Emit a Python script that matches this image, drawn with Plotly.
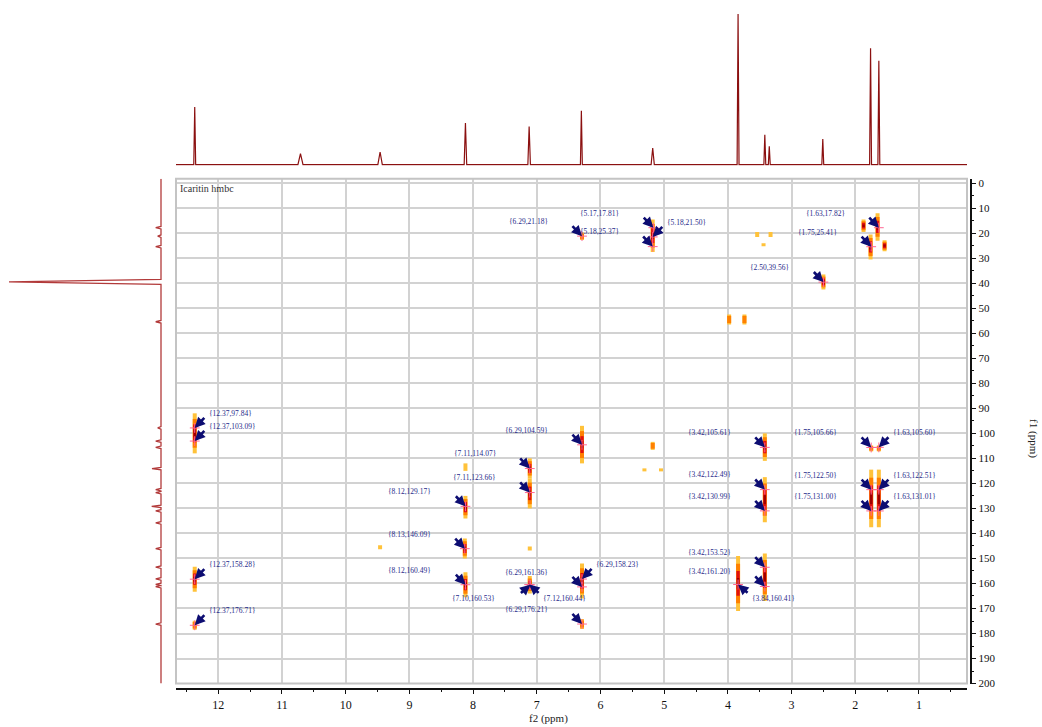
import plotly.graph_objects as go

W, H = 1042, 727
VS = 1.009  # vertical compensation for the capture

# ---------------- data ----------------
f2_tick_vals = [1, 2, 3, 4, 5, 6, 7, 8, 9, 10, 11, 12]
f1_tick_vals = list(range(0, 201, 10))

# 1H projection (top): ppm, height, half-width (ppm)
proton_ppm = [12.37, 10.71, 9.46, 8.12, 7.12, 6.30, 5.18, 3.84, 3.42, 3.35, 2.51, 1.76, 1.63]
proton_int = [57.7, 11.0, 12.7, 41.7, 38.3, 54.0, 16.7, 151.0, 30.0, 18.3, 25.7, 116.7, 104.0]
proton_hw = [0.015, 0.04, 0.035, 0.02, 0.02, 0.015, 0.025, 0.015, 0.015, 0.015, 0.015, 0.015, 0.015]

# 13C projection (left): ppm, height, half-width (ppm)
carbon_ppm = [17.8, 21.2, 25.4, 39.5, 55.4, 97.8, 103.1, 105.6, 114.1, 122.5, 123.7,
              129.2, 131.0, 135.8, 146.1, 153.5, 158.2, 160.4, 161.3, 176.2]
carbon_int = [5.3, 3.3, 5.3, 152.0, 5.3, 3.3, 5.3, 5.3, 9.0, 5.3, 5.3,
              9.3, 5.3, 5.3, 5.3, 5.3, 5.3, 5.3, 5.3, 5.3]
carbon_hw = [0.5, 0.5, 0.5, 1.0, 0.5, 0.5, 0.5, 0.5, 0.5, 0.5, 0.5,
             0.5, 0.5, 0.5, 0.5, 0.5, 0.5, 0.5, 0.5, 0.5]

# 2D cross peaks: f2, f1 centre, f1 half-extent, intensity level (1..3)
spot_f2 = [12.37, 12.37, 12.37, 8.12, 8.12, 8.13, 8.12, 9.46, 7.11, 7.11, 7.11, 7.11,
           6.29, 6.29, 6.29, 6.29, 5.18, 5.18, 5.31, 5.05, 3.54, 3.33, 3.44, 3.98, 3.74,
           3.42, 3.42, 3.42, 3.84, 2.50, 1.87, 1.65, 1.76, 1.54, 1.75, 1.63, 1.75, 1.63]
spot_f1 = [100.0, 158.3, 176.7, 113.5, 129.5, 146.0, 160.5, 145.5, 114.0, 124.0, 146.0, 160.5,
           104.5, 159.0, 176.2, 21.2, 21.0, 105.0, 114.6, 114.6, 20.5, 20.5, 24.6, 54.5, 54.5,
           105.5, 126.5, 157.5, 160.0, 39.5, 17.0, 17.5, 25.5, 25.0, 106.0, 106.0, 126.0, 126.0]
spot_span = [8.0, 5.0, 1.8, 1.5, 4.5, 4.0, 5.0, 0.8, 4.0, 6.0, 0.8, 3.5,
             7.5, 7.0, 2.0, 1.5, 6.5, 1.6, 0.6, 0.6, 1.0, 1.0, 0.6, 2.0, 2.0,
             5.5, 9.0, 9.5, 11.0, 3.0, 2.5, 5.5, 5.0, 2.2, 1.2, 1.2, 11.5, 11.5]
spot_level = [3, 3, 2, 1, 3, 3, 3, 1, 3, 3, 1, 3,
              3, 3, 2, 2, 3, 2, 1, 1, 1, 1, 1, 2, 2,
              3, 3, 3, 3, 3, 3, 3, 3, 3, 2, 2, 3, 3]

# peak-pick labels: f2, f1, side of the arrow tail
label_f2 = [12.37, 12.37, 12.37, 12.37, 8.12, 8.13, 8.12, 7.11, 7.11, 6.29, 6.29, 6.29,
            7.10, 7.12, 6.29, 6.29, 5.18, 5.17, 5.18, 2.50, 1.63, 1.75,
            3.42, 1.75, 1.63, 3.42, 1.75, 1.63, 3.42, 1.75, 1.63, 3.42, 3.42, 3.84]
label_f1 = [97.84, 103.09, 158.28, 176.71, 129.17, 146.09, 160.49, 114.07, 123.66, 104.59, 161.36, 158.23,
            160.53, 160.44, 176.21, 21.18, 25.37, 17.81, 21.50, 39.56, 17.82, 25.41,
            105.61, 105.66, 105.60, 122.49, 122.50, 122.51, 130.99, 131.00, 131.01, 153.52, 161.20, 160.41]
label_side = ['ur', 'ur', 'ur', 'ur', 'ul', 'ul', 'ul', 'ul', 'ul', 'ul', 'ul', 'ur',
              'dl', 'dr', 'ul', 'ul', 'ul', 'ul', 'ur', 'ul', 'ul', 'ul',
              'ul', 'ul', 'ur', 'ul', 'ul', 'ur', 'ul', 'ul', 'ur', 'ul', 'ul', 'dr']


# ---------------- layout geometry ----------------
def fy(px):
    """paper y fraction for a target pixel row (from top)"""
    return 1 - px * VS / H


X_RANGE = [12.664, 0.246]
Y_RANGE = [200.0, -1.8]
xdom = [176 / W, 967 / W]
ydom = [fy(683), fy(177)]

SERIF = "Liberation Serif, Times New Roman, serif"
NAVY = "#0d0d72"
LABEL_C = "#1f2a8a"
SPEC_C = "#8b1010"

fig = go.Figure()

# ---- top 1D projection ----
xs, ys = [X_RANGE[0]], [0]
for p, h, w in sorted(zip(proton_ppm, proton_int, proton_hw), reverse=True):
    xs += [p + w, p, p - w]
    ys += [0, h, 0]
xs.append(X_RANGE[1]); ys.append(0)
fig.add_trace(go.Scatter(x=xs, y=ys, xaxis="x2", yaxis="y2", mode="lines",
                         line=dict(color=SPEC_C, width=1.2), hoverinfo="skip", showlegend=False))

# ---- left 1D projection ----
cy, cx = [Y_RANGE[1]], [0]
for p, h, w in sorted(zip(carbon_ppm, carbon_int, carbon_hw)):
    cy += [p - w, p, p + w]
    cx += [0, h, 0]
cy.append(Y_RANGE[0]); cx.append(0)
fig.add_trace(go.Scatter(x=cx, y=cy, xaxis="x3", yaxis="y3", mode="lines",
                         line=dict(color="#b23a3a", width=1.3), hoverinfo="skip", showlegend=False))

# ---- 2D cross peaks (contour-like streaks) ----
layers = [("#FFC23A", 1.0, 4.0, 1), ("#FF8000", 0.72, 4.0, 2), ("#E01010", 0.45, 3.2, 3),
          ("#A00000", 0.2, 2.4, 3)]
for color, frac, width, minlev in layers:
    lx, ly = [], []
    for f2, f1, s, lev in zip(spot_f2, spot_f1, spot_span, spot_level):
        if lev >= minlev:
            lx += [f2, f2, None]
            ly += [f1 - s * frac, f1 + s * frac, None]
    fig.add_trace(go.Scatter(x=lx, y=ly, mode="lines", line=dict(color=color, width=width),
                             hoverinfo="skip", showlegend=False))

# peak crosses
fig.add_trace(go.Scatter(x=label_f2, y=label_f1, mode="markers",
                         marker=dict(symbol="cross-thin-open", size=7, line=dict(color=NAVY, width=1)),
                         hoverinfo="skip", showlegend=False))

# ---- arrows + labels ----
tail = {"ul": (-11, -11.5), "ur": (11, -11.5), "dl": (-11, 9.5), "dr": (11, 9.5)}
txt = {"ul": (-32, 14.5, "right"), "ur": (12, 14.5, "left"),
       "dl": (-33, -14, "right"), "dr": (12, -14, "left")}
annotations = []
for f2, f1, side in zip(label_f2, label_f1, label_side):
    ax, ay = tail[side]
    annotations.append(dict(x=f2, y=f1, xref="x", yref="y", ax=ax, ay=ay * VS, text="",
                            showarrow=True, arrowhead=2, arrowsize=0.8, arrowwidth=2.6,
                            arrowcolor=NAVY, standoff=0))
    xs_, ys_, anc = txt[side]
    annotations.append(dict(x=f2, y=f1, xref="x", yref="y", showarrow=False,
                            text="{%.2f,%.2f}" % (f2, f1), xanchor=anc, yanchor="middle",
                            xshift=xs_, yshift=ys_ * VS,
                            font=dict(family=SERIF, size=7.5, color=LABEL_C)))

annotations.append(dict(x=178 / W, y=fy(187), xref="paper", yref="paper", showarrow=False,
                        text="Icaritin hmbc", xanchor="left", yanchor="middle",
                        font=dict(family=SERIF, size=10, color="#333333")))
annotations.append(dict(x=548 / W, y=fy(718), xref="paper", yref="paper", showarrow=False,
                        text="f2 (ppm)", xanchor="center", yanchor="middle",
                        font=dict(family=SERIF, size=11, color="#222222")))
annotations.append(dict(x=1034 / W, y=fy(437), xref="paper", yref="paper", showarrow=False,
                        text="f1 (ppm)", textangle=90, xanchor="center", yanchor="middle",
                        font=dict(family=SERIF, size=11, color="#222222")))

fig.update_layout(
    width=W, height=H, autosize=False, margin=dict(l=0, r=0, t=0, b=0, pad=0),
    paper_bgcolor="white", plot_bgcolor="white", showlegend=False,
    xaxis=dict(domain=xdom, range=X_RANGE, tickvals=f2_tick_vals, ticktext=[str(v) for v in f2_tick_vals],
               showgrid=True, gridcolor="#d2d2d2", gridwidth=2, zeroline=False,
               showline=True, linecolor="#111111", linewidth=1.5, anchor="free", position=fy(688),
               ticks="outside", ticklen=5, tickcolor="#111111", tickwidth=1.2,
               minor=dict(dtick=0.5, tick0=0, ticks="outside", ticklen=3, tickcolor="#111111", showgrid=False),
               tickfont=dict(family=SERIF, size=12, color="#111111")),
    yaxis=dict(domain=ydom, range=Y_RANGE, tickvals=f1_tick_vals, ticktext=[str(v) for v in f1_tick_vals],
               showgrid=True, gridcolor="#d2d2d2", gridwidth=2, zeroline=False,
               side="right", anchor="free", position=970.5 / W,
               showline=True, linecolor="#111111", linewidth=1.5,
               ticks="outside", ticklen=5, tickcolor="#111111", tickwidth=1.2,
               minor=dict(dtick=5, tick0=0, ticks="outside", ticklen=3, tickcolor="#111111", showgrid=False),
               tickfont=dict(family=SERIF, size=11, color="#111111")),
    xaxis2=dict(domain=xdom, range=X_RANGE, visible=False, anchor="y2"),
    yaxis2=dict(domain=[fy(164), 1.0], range=[-1, 163], visible=False, anchor="x2"),
    xaxis3=dict(domain=[0, 163 / W], range=[161, -2], visible=False, anchor="y3"),
    yaxis3=dict(domain=ydom, range=Y_RANGE, visible=False, anchor="x3"),
    annotations=annotations,
    shapes=[dict(type="rect", xref="paper", yref="paper", x0=xdom[0], x1=xdom[1], y0=ydom[0], y1=ydom[1],
                 line=dict(color="#c4c4c4", width=2), layer="above")],
)

page_fix = ("var d=document.documentElement,b=document.body;"
            "d.style.margin='0';d.style.padding='0';d.style.overflow='hidden';"
            "b.style.margin='0';b.style.padding='0';b.style.overflow='hidden';")
fig.write_html("out.html",
               config={"displayModeBar": False, "responsive": False},
               post_script=page_fix)
